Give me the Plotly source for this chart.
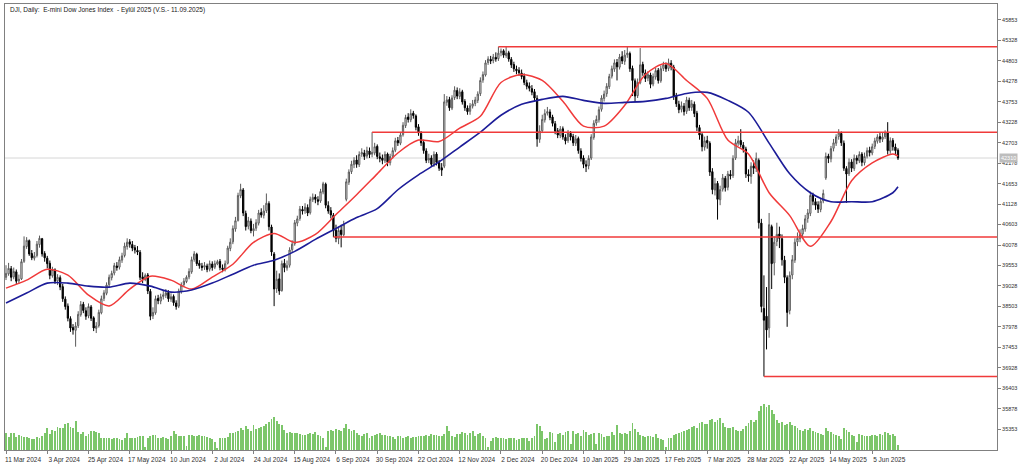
import plotly.graph_objects as go

# ---------------- data ----------------
opens = [
39250,39340,39470,39260,39390,39160,39210,39660,40040,40190,39860,39740,39810,40090,40240,39860,
39740,39610,39290,39440,39160,39240,39010,38690,38510,38190,37960,37890,38010,38290,38560,38390,
38260,38490,38210,37940,38010,38340,38710,38840,39060,39240,39360,39540,39510,39690,39810,40040,
40160,40090,40010,39940,39890,39260,39190,39310,38890,38260,38340,38710,38640,38760,38790,38860,
38690,38760,38590,38510,38890,39060,39140,39260,39390,39710,39840,39610,39540,39510,39540,39460,
39590,39510,39590,39660,39490,39460,39610,39990,40160,40490,40710,41340,41490,40890,40560,40690,
40440,40510,40640,40910,40840,40960,41140,40540,39850,38960,39210,38910,39610,39490,39560,39960,
40110,40640,40760,40990,40960,41040,40910,41240,41310,41240,41210,41440,41640,41090,40960,40840,
40460,40240,40460,40340,41250,41690,41960,42140,42260,42140,42410,42440,42360,42490,42410,42440,
42610,42340,42310,42240,42410,42190,42360,42510,42760,42690,42910,43140,43360,43290,43460,43390,
43110,42940,42710,42490,42260,42310,42140,42410,42190,42060,42100,43740,43810,43590,43860,44040,
43890,44010,43760,43590,43510,43640,43710,43790,43960,44310,44440,44760,44840,44810,44890,44860,
45010,45060,44940,45010,44840,44710,44590,44560,44490,44410,44240,44160,44090,44010,43840,42790,
43010,43290,43460,43490,43360,43190,43010,42890,43060,42840,42760,42940,42860,42690,42810,42490,
42310,42140,42110,42310,42840,43210,43290,43560,43840,43960,44140,44410,44590,44760,44640,44910,
44790,44960,44990,44610,44290,43910,44240,44710,44490,44360,44440,44210,44390,44560,44290,44610,
44690,44610,44740,44640,43910,43690,43560,43640,43510,43790,43610,43690,43460,43090,42910,42590,
42760,42690,41960,41490,41660,41240,41510,41790,41560,41890,41860,42310,42690,42760,42640,42540,
41890,41840,42110,42040,42250,40640,38450,38250,37950,40550,39620,40170,40360,40240,39690,39240,
38400,39310,39690,40160,40240,40360,40490,40760,40890,41360,41190,41110,40990,41210,41800,42360,
42290,42560,42690,42860,42940,42690,42040,41910,42210,42040,42310,42240,42410,42190,42360,42510,
42440,42610,42740,42860,42790,42860,42960,42490,42760,42590,42510,
]
highs = [
39560,39620,39540,39500,39450,39320,39720,40300,40280,40220,39950,39900,40180,40320,40260,39920,
39800,39680,39520,39480,39330,39300,39080,38760,38580,38250,38050,38100,38380,38640,38620,38480,
38580,38540,38250,38100,38420,38780,38920,39120,39320,39420,39620,39640,39780,39880,40140,40250,
40230,40180,40080,40050,39950,39380,39350,39360,38950,38480,38780,38800,38830,38900,38950,38920,
38840,38810,38660,38960,39120,39230,39300,39480,39780,39920,39880,39690,39620,39640,39600,39680,
39660,39680,39700,39720,39580,39680,40060,40250,40580,40800,41420,41650,41540,40960,40800,40760,
40620,40740,40980,41020,41100,41400,41200,40600,39900,39420,39350,39680,39720,39680,40020,40200,
40720,40830,41080,41080,41150,41120,41320,41400,41380,41330,41520,41700,41680,41200,41050,40900,
40600,40550,40600,40700,41780,42020,42240,42330,42380,42480,42560,42520,42600,42580,42974,42700,
42660,42450,42400,42480,42450,42420,42580,42830,42850,42980,43230,43420,43460,43560,43520,43430,
43180,43000,42780,42560,42420,42380,42480,42460,42260,42180,43950,43900,43880,43920,44150,44120,
44100,44060,43820,43660,43720,43800,43880,44020,44380,44530,44820,44920,44930,44980,45020,45165,
45120,45100,45160,45060,44900,44780,44680,44640,44580,44480,44320,44250,44180,44080,43920,43150,
43420,43560,43620,43560,43420,43260,43080,43130,43120,42920,43030,43000,42930,42900,42860,42560,
42380,42250,42380,42920,43280,43400,43630,43920,44040,44230,44470,44680,44840,44850,44980,45050,
45080,45165,45040,44680,44350,44350,45130,44780,44580,44540,44500,44480,44620,44620,44680,44780,
44760,44860,44820,44700,43980,43780,43760,43720,43880,43860,43800,43760,43520,43160,42980,42860,
42880,42740,42050,41800,41720,41600,41900,41850,41980,42000,42380,42800,42880,43050,42720,42600,
42020,42200,42250,42450,42300,40750,39300,39000,40900,40600,40300,40650,40550,40350,39800,39300,
39400,39820,40250,40400,40480,40600,40850,41000,41450,41420,41280,41200,41280,41500,42450,42420,
42620,42800,42920,43050,42990,42760,42100,42300,42280,42400,42380,42480,42460,42450,42580,42600,
42680,42830,42920,42950,42960,43020,43230,42840,42820,42680,42560,
]
lows = [
39180,39290,39150,39200,39080,39080,39180,39620,39980,39800,39690,39680,39760,40010,39780,39650,
39480,39200,39240,39080,39050,38920,38620,38420,38120,37850,37780,37470,37950,38240,38330,38160,
38200,38130,37870,37820,37960,38300,38640,38790,39000,39170,39300,39420,39450,39620,39760,39960,
40010,39920,39860,39820,39180,39100,39150,38820,38150,38180,38290,38560,38560,38680,38720,38620,
38620,38520,38420,38460,38830,39000,39100,39200,39340,39650,39540,39470,39420,39440,39380,39400,
39420,39460,39560,39430,39380,39400,39580,39920,40100,40420,40680,41280,40820,40450,40480,40380,
40300,40440,40580,40780,40760,40900,40450,39800,38510,38850,38800,38880,39380,39420,39500,39880,
40060,40560,40700,40860,40880,40820,40860,41180,41150,41100,41160,41380,41020,40880,40760,40281,
40150,40100,40018,40300,41200,41620,41900,42050,42060,42080,42340,42260,42300,42310,42330,42380,
42280,42200,42150,42180,42100,42120,42300,42460,42620,42640,42860,43080,43220,43230,43320,43020,
42880,42620,42420,42180,42180,42080,42080,42120,41980,41850,42050,43650,43520,43540,43800,43820,
43820,43680,43520,43420,43420,43580,43640,43720,43900,44240,44400,44700,44720,44740,44780,44800,
44920,44880,44880,44780,44620,44520,44460,44420,44330,44180,44070,44020,43920,43770,42600,42700,
42950,43220,43400,43280,43120,42920,42820,42820,42780,42660,42700,42760,42620,42620,42420,42220,
42050,41950,42020,42260,42780,43140,43220,43500,43760,43880,44080,44350,44520,44300,44580,44720,
44700,44880,44520,43900,43750,43850,44200,44420,44260,44280,44100,44150,44320,44220,44240,44540,
44520,44540,44560,43800,43620,43460,43480,43400,43440,43520,43520,43360,43000,42780,42480,42500,
42550,41850,41380,41350,40730,41100,41450,41450,41480,41760,41800,42260,42620,42580,42450,41800,
41700,41650,41900,41950,40500,38350,36706,37400,37700,38950,39300,40050,40000,39550,39100,37980,
38300,39200,39620,40050,40150,40250,40420,40650,40820,41100,40980,40900,40920,41150,41750,42180,
42200,42480,42620,42780,42620,41980,41160,41850,41950,41980,42150,42180,42100,42120,42300,42350,
42380,42540,42680,42700,42720,42800,42400,42420,42500,42380,42260,
]
closes = [
39350,39480,39250,39400,39150,39200,39650,40050,40200,39850,39750,39800,40100,40250,39850,39750,
39600,39300,39450,39150,39250,39000,38700,38500,38200,37950,37900,38000,38300,38550,38400,38250,
38500,38200,37950,38000,38350,38700,38850,39050,39250,39350,39550,39500,39700,39800,40050,40150,
40100,40000,39950,39900,39250,39200,39300,38900,38250,38350,38700,38650,38750,38800,38850,38700,
38750,38600,38500,38900,39050,39150,39250,39400,39700,39850,39600,39550,39500,39550,39450,39600,
39500,39600,39650,39500,39450,39600,40000,40150,40500,40700,41350,41500,40900,40550,40700,40450,
40500,40650,40900,40850,40950,41150,40550,39900,38950,39200,38900,39600,39500,39550,39950,40100,
40650,40750,41000,40950,41050,40900,41250,41300,41250,41200,41450,41650,41100,40950,40850,40450,
40250,40450,40350,40600,41700,41950,42150,42250,42150,42400,42450,42350,42500,42400,42450,42600,
42350,42300,42250,42400,42200,42350,42500,42750,42700,42900,43150,43350,43300,43450,43400,43100,
42950,42700,42500,42250,42300,42150,42400,42200,42050,42000,43750,43800,43600,43850,44050,43900,
44000,43750,43600,43500,43650,43700,43800,43950,44300,44450,44750,44850,44800,44900,44850,45000,
45050,44950,45000,44850,44700,44600,44550,44500,44400,44250,44150,44100,44000,43850,42800,43000,
43300,43450,43500,43350,43200,43000,42900,43050,42850,42750,42950,42850,42700,42800,42500,42300,
42150,42100,42300,42850,43200,43300,43550,43850,43950,44150,44400,44600,44750,44650,44900,44800,
44950,45000,44600,44300,43900,44250,44700,44500,44350,44450,44200,44400,44550,44300,44600,44700,
44600,44750,44650,43900,43700,43550,43650,43500,43800,43600,43700,43450,43100,42900,42600,42750,
42700,41950,41500,41650,41250,41500,41800,41550,41900,41850,42300,42700,42750,42650,42550,41900,
41850,42100,42050,42300,40650,38500,38150,37900,40600,39600,40150,40350,40250,39700,39250,38350,
39300,39700,40150,40250,40350,40500,40750,40900,41350,41200,41100,41000,41200,41400,42350,42300,
42550,42700,42850,42950,42700,42050,41900,42200,42050,42300,42250,42400,42200,42350,42500,42450,
42600,42750,42850,42800,42850,42950,42500,42750,42600,42500,42310,
]
volumes = [
88000,66000,88000,85000,66000,75000,71000,66000,63000,60000,55000,55000,63000,60000,70000,85000,
110000,80000,100000,95000,115000,110000,112000,130000,135000,118000,110000,145000,90000,80000,92000,70000,
80000,95000,98000,92000,88000,60000,60000,62000,58000,55000,60000,58000,55000,52000,60000,85000,
62000,60000,58000,65000,72000,68000,15000,62000,70000,78000,75000,62000,60000,66000,58000,55000,
68000,95000,80000,70000,72000,70000,18000,75000,75000,72000,70000,75000,68000,72000,65000,60000,
55000,40000,12000,60000,62000,60000,65000,88000,85000,90000,95000,110000,100000,120000,105000,95000,
125000,105000,110000,115000,120000,130000,140000,155000,165000,145000,130000,125000,100000,88000,90000,85000,
85000,88000,80000,75000,78000,82000,85000,80000,90000,75000,70000,60000,15000,95000,100000,98000,
105000,100000,95000,110000,130000,105000,95000,100000,85000,75000,70000,80000,85000,60000,70000,75000,
80000,85000,78000,75000,72000,70000,65000,55000,68000,72000,60000,65000,70000,62000,65000,66000,
68000,70000,72000,75000,70000,80000,78000,75000,70000,72000,80000,120000,95000,70000,65000,80000,
80000,90000,88000,75000,85000,95000,70000,80000,85000,70000,60000,15000,45000,62000,65000,60000,
58000,60000,55000,62000,60000,58000,52000,55000,58000,62000,60000,45000,60000,70000,130000,120000,
95000,55000,60000,90000,85000,40000,80000,85000,75000,90000,95000,30000,95000,80000,85000,70000,
100000,90000,75000,80000,88000,30000,85000,80000,65000,72000,70000,90000,75000,125000,85000,80000,
85000,80000,95000,135000,105000,90000,75000,70000,65000,72000,70000,65000,80000,60000,55000,50000,
15000,60000,62000,75000,80000,85000,90000,95000,100000,105000,115000,120000,110000,135000,140000,130000,
130000,150000,155000,140000,150000,160000,135000,115000,110000,112000,118000,100000,95000,98000,105000,120000,
135000,150000,140000,150000,195000,220000,230000,215000,225000,200000,180000,150000,135000,140000,125000,130000,
140000,125000,120000,110000,100000,95000,105000,100000,110000,95000,90000,85000,80000,75000,110000,95000,
90000,80000,75000,70000,55000,110000,100000,90000,75000,70000,40000,80000,75000,70000,68000,72000,
75000,78000,72000,80000,75000,90000,85000,78000,80000,70000,25000,
]

# moving averages, one reading every 8 bars (+ last bar)
ma_fast = [38973,39177,39458,39305,38795,38515,38948,39279,39177,38948,39254,39585,40145,40375,40145,40349,
           40859,41369,41904,42439,42770,42732,43076,43380,44248,44452,44299,43764,43127,43127,43662,44452,
           44732,44299,43840,42770,42413,41419,40833,40044,40681,41725,42184,42413,42362]
ma_slow = [38591,38846,39101,39101,39024,38999,39101,39024,38871,38922,39101,39330,39559,39687,39916,40222,
           40502,40782,41012,41496,41878,42209,42592,42974,43407,43687,43815,43891,43789,43713,43738,43764,
           43840,43967,43993,43789,43483,42693,41904,41419,41190,41190,41190,41419,41572]
ma_bars = list(range(0, len(closes), 8)) + [len(closes) - 1]

# horizontal levels (price, bar where the line is anchored)
level_prices = [45165, 42974, 40281, 36706]
level_bars = [191, 142, 127, 294]

x_tick_labels = ["11 Mar 2024", "3 Apr 2024", "25 Apr 2024", "17 May 2024", "10 Jun 2024", "2 Jul 2024",
                 "24 Jul 2024", "15 Aug 2024", "6 Sep 2024", "30 Sep 2024", "22 Oct 2024", "12 Nov 2024",
                 "2 Dec 2024", "20 Dec 2024", "10 Jan 2025", "29 Jan 2025", "17 Feb 2025", "7 Mar 2025",
                 "28 Mar 2025", "22 Apr 2025", "14 May 2025", "5 Jun 2025"]
bars_per_label = 16
y_ticks = [35353, 35878, 36403, 36928, 37453, 37978, 38503, 39028, 39553, 40078, 40603,
           41128, 41653, 42178, 42703, 43228, 43753, 44278, 44803, 45328, 45853]

title_text = "DJI, Daily:  E-mini Dow Jones Index  - Eylül 2025 (V.S.- 11.09.2025)"

# ---------------- figure ----------------
bars = list(range(len(closes)))
X_MIN, X_MAX = -0.39, 384.4
Y_MIN, Y_MAX = 34820, 46261

fig = go.Figure()

fig.add_trace(go.Bar(
    x=bars, y=volumes, yaxis="y2", width=0.34,
    marker=dict(color="#7cc66a", line=dict(width=0)), showlegend=False))

fig.add_trace(go.Candlestick(
    x=bars, open=opens, high=highs, low=lows, close=closes,
    increasing=dict(line=dict(color="#5a5a5a", width=1), fillcolor="white"),
    decreasing=dict(line=dict(color="#000000", width=1), fillcolor="#000000"),
    whiskerwidth=0, showlegend=False))

fig.add_trace(go.Scatter(x=ma_bars, y=ma_fast, mode="lines",
                         line=dict(color="#f03a3a", width=1.5, shape="spline", smoothing=0.8),
                         showlegend=False))
fig.add_trace(go.Scatter(x=ma_bars, y=ma_slow, mode="lines",
                         line=dict(color="#1c1c98", width=1.6, shape="spline", smoothing=0.8),
                         showlegend=False))

shapes = []
for p, b in zip(level_prices, level_bars):
    shapes.append(dict(type="line", xref="x", yref="y", x0=b, x1=X_MAX, y0=p, y1=p,
                       line=dict(color="#f03a3a", width=1.5), layer="above"))
shapes.append(dict(type="line", xref="paper", yref="y", x0=0, x1=1, y0=closes[-1], y1=closes[-1],
                   line=dict(color="#d6d6d6", width=1), layer="below"))

fig.update_layout(
    width=1024, height=467,
    margin=dict(l=5, r=27, t=3, b=15, pad=0),
    paper_bgcolor="white", plot_bgcolor="white",
    hovermode=False, bargap=0,
    font=dict(family="Liberation Sans, Arial, sans-serif", size=6, color="#303030"),
    shapes=shapes,
    xaxis=dict(range=[X_MIN, X_MAX], rangeslider=dict(visible=False),
               tickmode="array",
               tickvals=[i * bars_per_label for i in range(len(x_tick_labels))],
               ticktext=x_tick_labels, ticks="outside", ticklen=3, tickcolor="#808080",
               ticklabelshift=17, tickfont=dict(size=6.5, color="#303030"),
               showgrid=False, zeroline=False, showline=True, linecolor="#808080",
               linewidth=1, mirror=True),
    yaxis=dict(range=[Y_MIN, Y_MAX], side="right", tickmode="array", tickvals=y_ticks,
               ticktext=[str(v) for v in y_ticks], ticks="outside", ticklen=3,
               tickcolor="#808080", tickfont=dict(size=5.5, color="#303030"),
               showgrid=False, zeroline=False, showline=True, linecolor="#808080",
               linewidth=1, mirror=True),
    yaxis2=dict(overlaying="y", range=[0, 2245000], visible=False, fixedrange=True),
    annotations=[
        dict(xref="paper", yref="paper", x=0.003, y=0.987, xanchor="left", yanchor="middle",
             text=title_text, showarrow=False, font=dict(size=6.5, color="#202020")),
        dict(xref="paper", yref="y", x=1.002, y=closes[-1], xanchor="left", yanchor="middle",
             text=str(closes[-1]), showarrow=False, bgcolor="#bdbdbd",
             font=dict(size=5.5, color="white"), borderpad=1),
    ],
)

fig.write_html("out.html", config={"displayModeBar": False},
               post_script="document.body.style.margin='0px';document.body.style.overflow='hidden';")
